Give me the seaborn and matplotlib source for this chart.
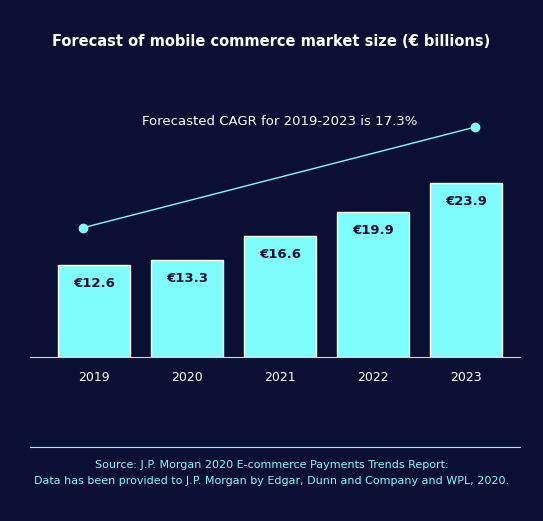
import matplotlib
matplotlib.use("Agg")
import matplotlib.pyplot as plt
import seaborn as sns
import pandas as pd

years = ["2019", "2020", "2021", "2022", "2023"]
values = [12.6, 13.3, 16.6, 19.9, 23.9]
labels = ["€12.6", "€13.3", "€16.6", "€19.9", "€23.9"]
cagr_text = "Forecasted CAGR for 2019-2023 is 17.3%"
trend_x = [-0.12, 4.1]
trend_y = [17.7, 31.5]

BG = "#0b0f33"
CYAN = "#7ffcfc"

sns.set_theme(style="white")
plt.rcParams['font.family'] = ['DejaVu Sans']
fig = plt.figure(figsize=(5.43, 5.21), dpi=100, facecolor=BG)
ax = fig.add_axes([30/543, 1-357/521, 490/543, 257/521])
ax.set_facecolor(BG)
df = pd.DataFrame({"year": years, "value": values})
sns.barplot(data=df, x="year", y="value", color=CYAN, saturation=1, width=0.77, ax=ax)
ax.set_xlim(-0.69, 4.58)
ax.set_ylim(0, 35.2)
for i, (v, l) in enumerate(zip(values, labels)):
    ax.text(i, v - 2.6, l, ha="center", va="center", color=BG, fontsize=9.5, fontweight="bold")
ax.plot(trend_x, trend_y, color=CYAN, lw=1, marker="o", ms=6)
ax.text(2.0, 32.3, cagr_text, ha="center", va="center", color="white", fontsize=9.5)
for s in ["top", "right", "left"]:
    ax.spines[s].set_visible(False)
ax.spines["bottom"].set_color("#cfd3e0")
ax.spines["bottom"].set_linewidth(0.8)
ax.set_yticks([])
ax.set_xlabel("")
ax.set_ylabel("")
ax.tick_params(axis="x", colors="white", labelsize=9, length=0, pad=10)

fig.text(0.5, 1-42/521, "Forecast of mobile commerce market size (€ billions)",
         ha="center", va="center", color="white", fontsize=10.5, fontweight="bold")
fig.add_artist(plt.Line2D([30/543, 520/543], [1-447/521, 1-447/521], color=CYAN, lw=0.8))
fig.text(0.5, 1-465/521, "Source: J.P. Morgan 2020 E-commerce Payments Trends Report:",
         ha="center", va="center", color=CYAN, fontsize=8)
fig.text(0.5, 1-481/521, "Data has been provided to J.P. Morgan by Edgar, Dunn and Company and WPL, 2020.",
         ha="center", va="center", color=CYAN, fontsize=8)
fig.savefig("out.png", dpi=100, facecolor=BG)
